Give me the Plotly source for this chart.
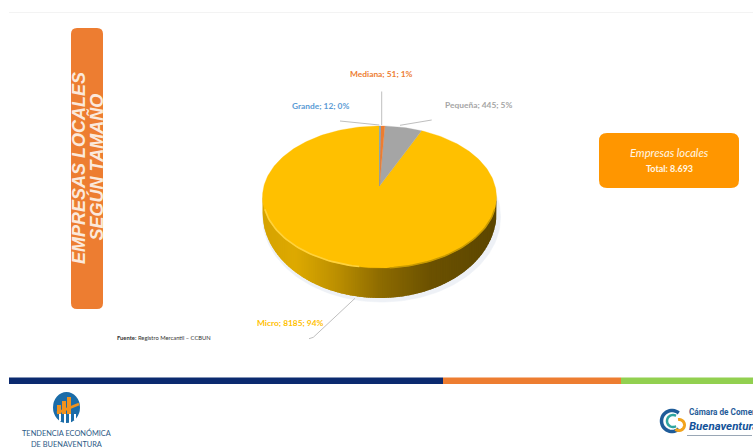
import numpy as np
import plotly.graph_objects as go

# Registered companies by size
categories = ["Grande", "Mediana", "Pequeña", "Micro"]
companies = [12, 51, 445, 8185]
slice_colors = ["#5B9BD5", "#ED7D31", "#A5A5A5", "#FFC000"]
total_label = "8.693"

WIDTH, HEIGHT = 753, 447
CX, CY_TOP, RX, RY_TOP = 379.5, 197.0, 117.0, 71.0
APEX_Y = 186.0
CY_BOTTOM, RY_BOTTOM = 213.0, 85.0

# Shading of the pie's outer wall from left to right (x, rgb)
WALL_STOPS = [(262, (214, 163, 0)), (295, (222, 170, 0)), (335, (190, 145, 0)),
              (380, (142, 108, 0)), (430, (108, 82, 0)), (497, (92, 70, 0))]

fig = go.Figure()


def poly(xs, ys, color, line_w=0.6):
    fig.add_trace(go.Scatter(x=xs, y=ys, mode="lines", fill="toself", fillcolor=color,
                             line=dict(color=color, width=line_w), hoverinfo="skip",
                             showlegend=False))


def rounded_rect(x0, y0, x1, y1, r, color):
    path = (f"M{x0+r},{y0} L{x1-r},{y0} Q{x1},{y0} {x1},{y0+r} L{x1},{y1-r} Q{x1},{y1} {x1-r},{y1} "
            f"L{x0+r},{y1} Q{x0},{y1} {x0},{y1-r} L{x0},{y0+r} Q{x0},{y0} {x0+r},{y0} Z")
    return dict(type="path", path=path, fillcolor=color, line=dict(width=0), xref="x", yref="y", layer="below")


def rect(x0, y0, x1, y1, color):
    return dict(type="rect", x0=x0, y0=y0, x1=x1, y1=y1, fillcolor=color, line=dict(width=0),
                xref="x", yref="y", layer="above")


def arc_path(cx, cy, r, a0, a1, n=30):
    t = np.radians(np.linspace(a0, a1, n))
    pts = [f"{cx + r*np.cos(v):.2f},{cy - r*np.sin(v):.2f}" for v in t]
    return "M" + " L".join(pts)


def arc(cx, cy, r, a0, a1, color, w):
    return dict(type="path", path=arc_path(cx, cy, r, a0, a1), line=dict(color=color, width=w),
                xref="x", yref="y", layer="above")


def leader(xs, ys):
    fig.add_trace(go.Scatter(x=xs, y=ys, mode="lines", line=dict(color="#BFBFBF", width=1),
                             hoverinfo="skip", showlegend=False))


# Soft ground shadow below the pie
t = np.linspace(0, 2 * np.pi, 160)
poly(CX + 2 + (RX + 2) * np.cos(t), CY_BOTTOM + 4 + RY_BOTTOM * np.sin(t), "#EEF1F6")

# Outer wall: vertical strips between the top face and the lower rim, each one
# overlapped by the next so no seams show
def rim_top(x):
    return CY_TOP + RY_TOP * np.sqrt(np.clip(1 - ((x - CX) / RX) ** 2, 0, 1))


def rim_bottom(x):
    return CY_BOTTOM + RY_BOTTOM * np.sqrt(np.clip(1 - ((x - CX) / RX) ** 2, 0, 1))


edges = np.linspace(CX - RX, CX + RX, 130)
stop_x = [s[0] for s in WALL_STOPS]
for a, b in zip(edges[:-1], edges[1:]):
    mid = (a + b) / 2
    rgb = [int(np.interp(mid, stop_x, [s[1][i] for s in WALL_STOPS])) for i in range(3)]
    sx = np.linspace(a, min(b + 1.5, CX + RX), 5)
    xs = np.concatenate([sx, sx[::-1]])
    ys = np.concatenate([rim_top(sx) - 2, rim_bottom(sx[::-1])])
    poly(xs, ys, f"rgb({rgb[0]},{rgb[1]},{rgb[2]})", 0)

# Top face: wedges run clockwise from twelve o'clock, sized by their share of the total
shares = np.array(companies) / sum(companies)
bounds = np.concatenate([[0], np.cumsum(shares)]) * 2 * np.pi
order = np.argsort(shares)[::-1]
for i in order:
    th = np.linspace(bounds[i], bounds[i + 1], max(3, int(shares[i] * 300)))
    xs = np.concatenate([[CX], CX + RX * np.sin(th), [CX]])
    ys = np.concatenate([[APEX_Y], CY_TOP - RY_TOP * np.cos(th), [APEX_Y]])
    poly(xs, ys, slice_colors[i], 0.3)

# Bevel along the front edge of the top face
lit = np.radians(np.linspace(100, 170, 40))
fig.add_trace(go.Scatter(x=CX - RX * np.sin(lit) * 0.995, y=CY_TOP - RY_TOP * np.cos(lit) * 0.995,
                         mode="lines", line=dict(color="#FFD23C", width=1.6),
                         hoverinfo="skip", showlegend=False))
shaded = np.radians(np.linspace(100, 175, 40))
fig.add_trace(go.Scatter(x=CX + RX * np.sin(shaded), y=CY_TOP - RY_TOP * np.cos(shaded),
                         mode="lines", line=dict(color="#C89A00", width=1.6),
                         hoverinfo="skip", showlegend=False))

# Leader lines from the slices to their labels
leader([381.7, 381.7], [91.5, 125])
leader([340, 379.3], [121, 125])
leader([400, 431.7], [125.3, 120])
leader([355, 313.3, 309], [298.3, 337.3, 338.7])

# Data labels read "name; count; percent"
label_pos = {"Grande": (320, 106), "Mediana": (381.5, 73.5), "Pequeña": (478.5, 105), "Micro": (290, 323)}
annotations = []


def text(x, y, s, size, color, family="Lato", anchor="center", angle=0):
    annotations.append(dict(x=x, y=y, text=s, showarrow=False, xref="x", yref="y", xanchor=anchor,
                            yanchor="middle", textangle=angle, font=dict(family=family, size=size, color=color)))


for name, val, share, col in zip(categories, companies, shares, slice_colors):
    lx, ly = label_pos[name]
    text(lx, ly, f"<b>{name}; {val}; {share * 100:.0f}%</b>", 8.4, col)

# Side title, total box and source note
text(78.5, 168.5, "<b><i>EMPRESAS LOCALES</i></b>", 18, "#FBE9DC", "Liberation Sans", angle=-90)
text(95.5, 167, "<b><i>SEGÚN TAMAÑO</i></b>", 18, "#FBE9DC", "Liberation Sans", angle=-90)
text(669, 152, "<i>Empresas locales</i>", 11.2, "#FFF6E6")
text(669, 168, f"<b>Total: {total_label}</b>", 9, "#FFF6E6")
text(115, 337, "<b>Fuente:</b> Registro Mercantil – CCBUN", 5.8, "#333333", anchor="left")

# Footer identity
text(66.5, 433, "TENDENCIA ECONÓMICA", 7.4, "#2C5A85")
text(66.5, 444.5, "DE BUENAVENTURA", 7.4, "#2C5A85")
text(687, 412, "<b>Cámara de Comercio</b>", 8.2, "#1F5C99", "Roboto", anchor="left")
text(687, 426, "<b><i>Buenaventura</i></b>", 11.5, "#14539A", "Roboto", anchor="left")

shapes = [
    dict(type="line", x0=9, x1=753, y0=12.5, y1=12.5, line=dict(color="#F3F3F3", width=1), xref="x", yref="y", layer="below"),
    rounded_rect(71, 28, 103, 309, 6, "#ED7D31"),
    rounded_rect(599, 133, 739, 188, 8, "#FF9600"),
    rect(9, 377.5, 443, 384, "#0B2A6F"),
    rect(443, 377.5, 621, 384, "#ED7D31"),
    rect(621, 377.5, 753, 384, "#92D050"),
    # Emblem above the footer caption
    dict(type="circle", x0=53, y0=392, x1=80, y1=423, fillcolor="#1B6CA8", line=dict(width=0), xref="x", yref="y", layer="above"),
    rect(59, 414, 61, 421, "#FFFFFF"), rect(64, 414, 66, 423, "#FFFFFF"), rect(69, 414, 71, 423, "#FFFFFF"), rect(74, 414, 76, 420, "#FFFFFF"),
    rect(57, 405, 61, 414, "#F0921E"), rect(62, 401, 66, 414, "#F0921E"), rect(67, 397, 71, 414, "#F0921E"),
    dict(type="line", x0=57, y0=413, x1=79, y1=404, line=dict(color="#F0921E", width=2.5), xref="x", yref="y", layer="above"),
    # Chamber emblem
    arc(672, 421, 10.5, 50, 310, "#1F5C99", 3.5),
    arc(673, 421, 6, 60, 300, "#2FA5A0", 2.5),
    arc(679, 425, 5.5, -130, 100, "#F2A31B", 3),
    dict(type="line", x0=687, x1=752, y0=435.5, y1=435.5, line=dict(color="#9AA7B5", width=1.2), xref="x", yref="y", layer="above"),
]

fig.update_layout(
    width=WIDTH, height=HEIGHT, margin=dict(l=0, r=0, t=0, b=0),
    paper_bgcolor="white", plot_bgcolor="white", showlegend=False,
    xaxis=dict(range=[0, WIDTH], visible=False, fixedrange=True),
    yaxis=dict(range=[HEIGHT, 0], visible=False, fixedrange=True),
    shapes=shapes, annotations=annotations,
)
fig.write_html("out.html", config=dict(displayModeBar=False))
